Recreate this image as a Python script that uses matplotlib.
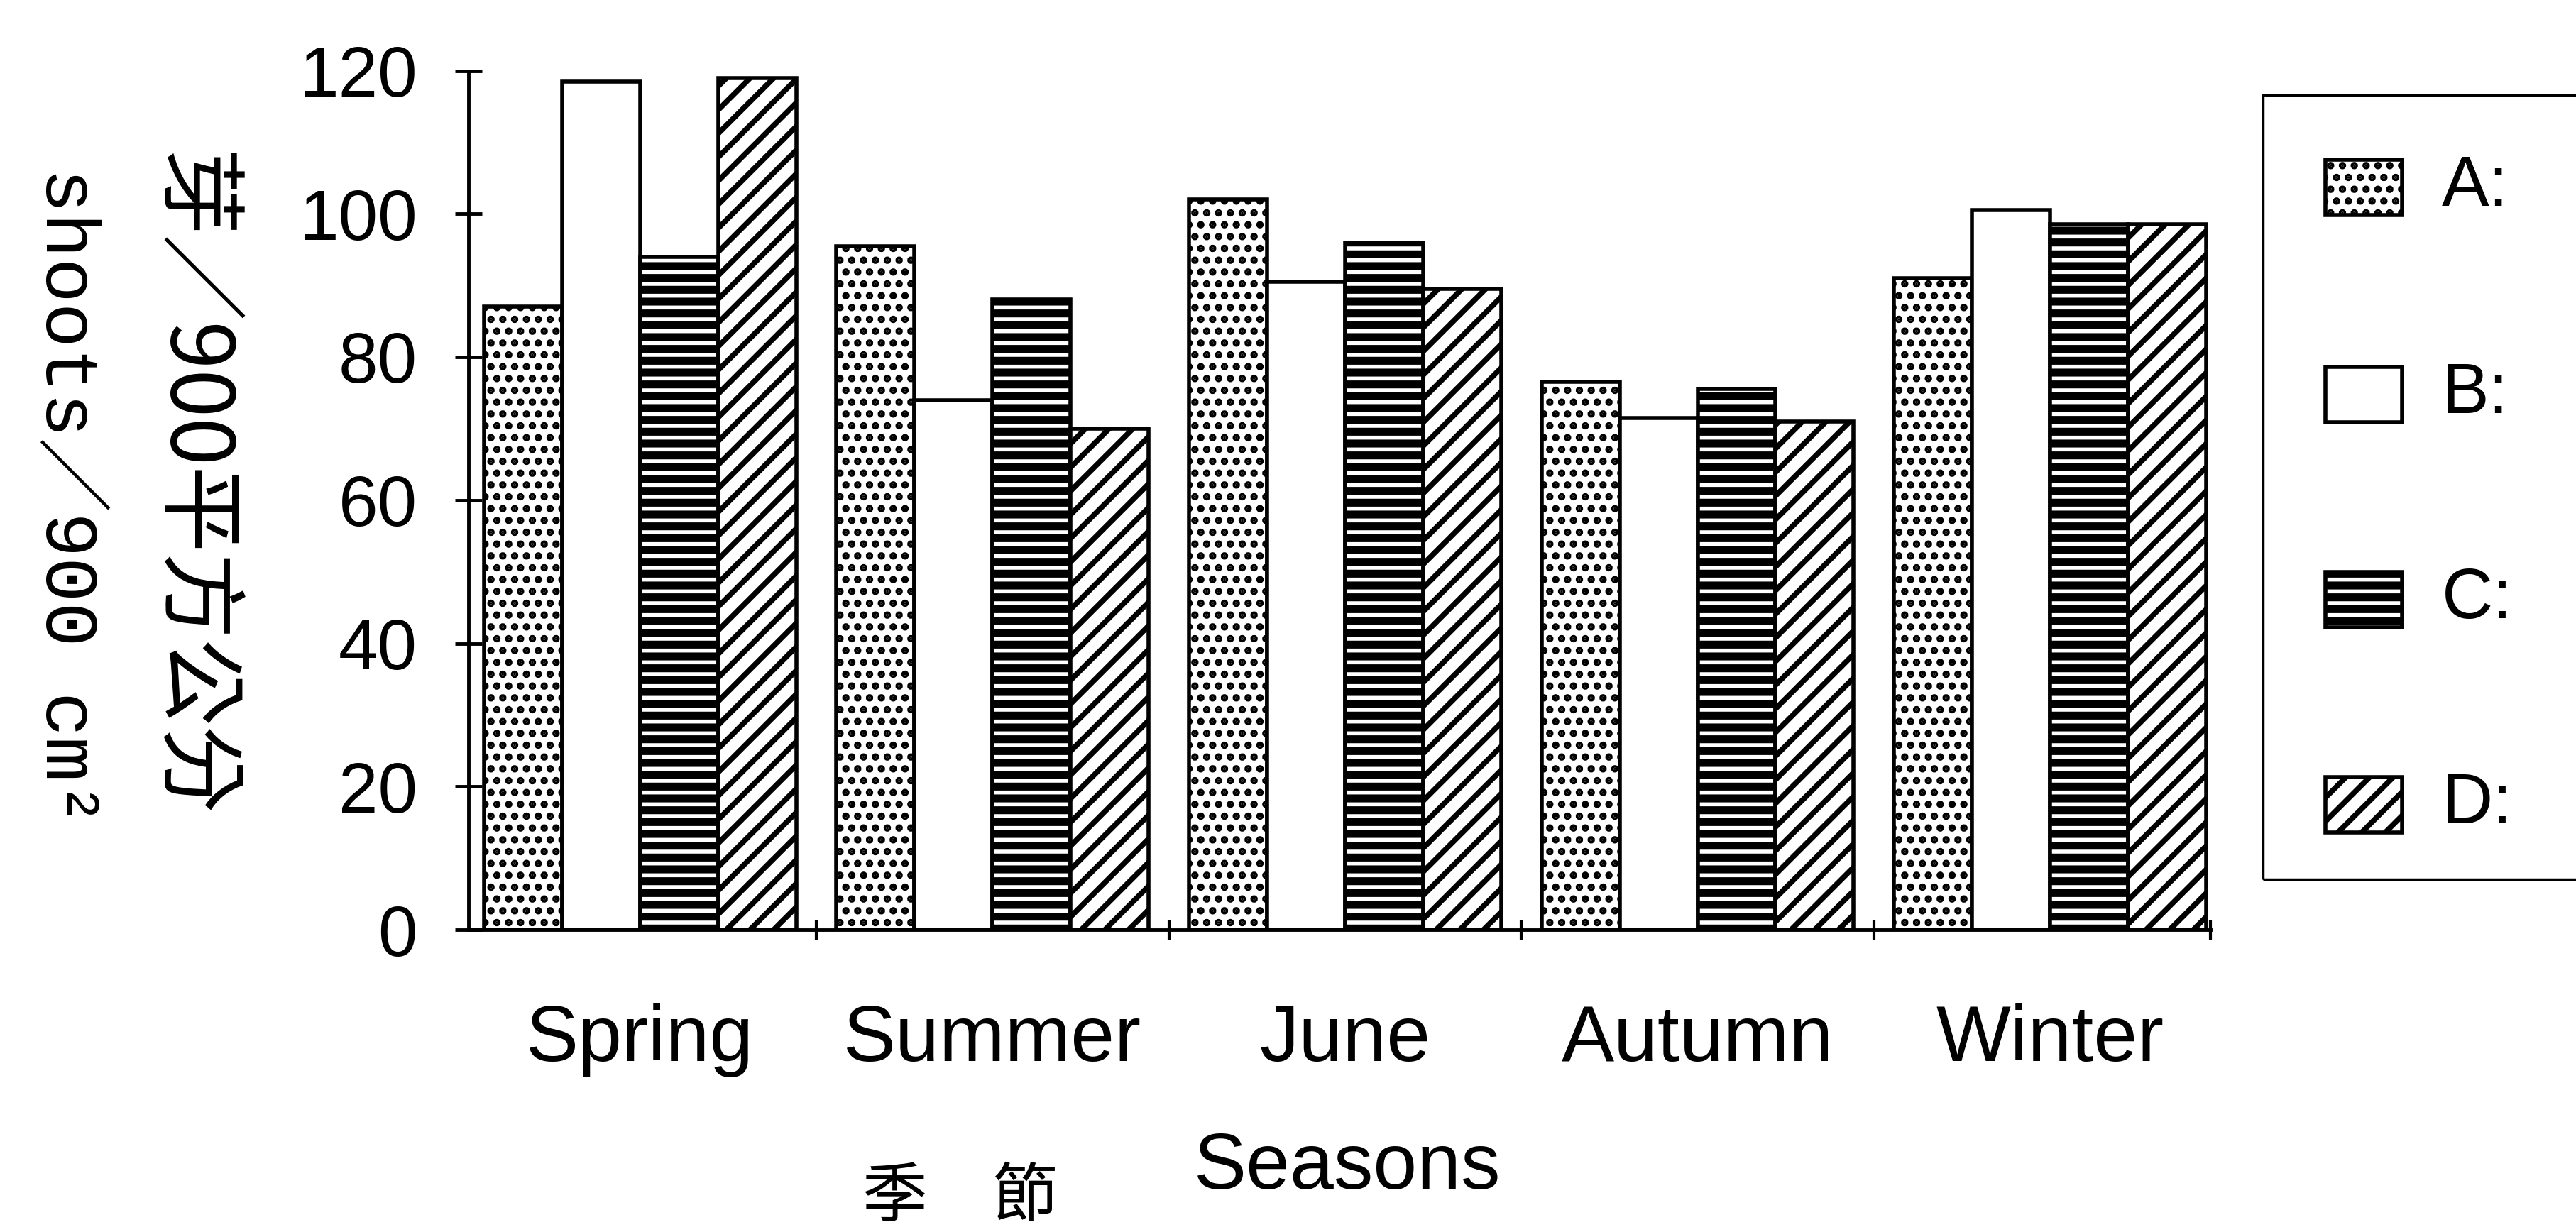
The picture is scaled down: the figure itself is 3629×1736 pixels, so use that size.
import matplotlib
matplotlib.use('Agg')
import matplotlib.pyplot as plt
from matplotlib.patches import Rectangle
import numpy as np

# ---- data ----
categories = ['Spring', 'Summer', 'June', 'Autumn', 'Winter']
series_labels = ['A:', 'B:', 'C:', 'D:']
A = [87.0, 95.5, 102.0, 76.5, 91.0]
B = [118.5, 74.0, 90.5, 71.5, 100.5]
C = [94.0, 88.0, 96.0, 75.5, 98.5]
D = [119.0, 70.0, 89.5, 71.0, 98.5]
yticks = [0, 20, 40, 60, 80, 100, 120]

series = [A, B, C, D]
hatches = ['.', '', '-', '/']
hatch_lws = [5.0, 1.0, 8.0, 5.5]

W, H, DPI = 3630, 1736, 100
plt.rcParams['hatch.color'] = 'black'
fig = plt.figure(figsize=(W / DPI, H / DPI), dpi=DPI, facecolor='white')

ax_left = 660 / W
ax_right = 3114 / W
ax_bottom = 1 - 1310 / H
ax_top = 1 - 99.5 / H
ax = fig.add_axes([ax_left, ax_bottom, ax_right - ax_left, ax_top - ax_bottom])

x = np.arange(len(categories))
bw = 0.2215
offsets = (np.arange(4) - 1.5) * bw


def apply_hatch_lw(patch, lw):
    try:
        patch.set_hatch_linewidth(lw)
    except Exception:
        pass


for i, (vals, h, hlw) in enumerate(zip(series, hatches, hatch_lws)):
    with plt.rc_context({'hatch.linewidth': hlw}):
        bars = ax.bar(x + offsets[i], vals, width=bw, color='white',
                      edgecolor='black', linewidth=4, hatch=h, zorder=2)
    for b in bars:
        apply_hatch_lw(b, hlw)

ax.set_xlim(-0.487, 4.455)
ax.set_ylim(0, 120)

for s in ['top', 'right']:
    ax.spines[s].set_visible(False)
for s in ['left', 'bottom']:
    ax.spines[s].set_linewidth(3.5)

ax.set_yticks(yticks)
ax.set_yticklabels([str(v) for v in yticks], fontsize=72, family='Liberation Sans')
ax.tick_params(axis='y', direction='inout', length=28, width=3.5, pad=38)

ax.set_xticks(x)
ax.set_xticklabels(categories, fontsize=80, family='Liberation Sans')
ax.tick_params(axis='x', which='major', length=0, pad=75)
ax.set_xticks([0.5, 1.5, 2.5, 3.5, 4.455], minor=True)
ax.tick_params(axis='x', which='minor', direction='inout', length=20, width=3)

# axis titles
fig.text(1898 / W, 1 - 1646 / H, 'Seasons', fontsize=80, family='Liberation Sans',
         ha='center', va='center')
fig.text(1352 / W, 1 - 1688 / H, '季　節', fontsize=66,
         family=['Noto Sans CJK TC', 'DejaVu Sans'], ha='center', va='center')

fig.text(268 / W, 1 - 683 / H, '芽／900平方公分', fontsize=88, rotation=-90,
         family=['Noto Sans CJK TC', 'DejaVu Sans'], ha='center', va='center')
fig.text(93 / W, 1 - 700 / H, 'shoots／900 cm²', fontsize=76, rotation=-90,
         family=['Liberation Mono', 'Noto Sans CJK TC', 'DejaVu Sans'],
         ha='center', va='center')

# legend (drawn manually)
box = Rectangle((3188 / W, 1 - 1239 / H), 0.2, (1239 - 134) / H,
                transform=fig.transFigure, fill=False, edgecolor='black',
                linewidth=2.5, clip_on=False)
fig.add_artist(box)
leg_cy = [264, 556, 845, 1134]
pw, ph = 108 / W, 78 / H
for lab, h, hlw, cy in zip(series_labels, hatches, hatch_lws, leg_cy):
    with plt.rc_context({'hatch.linewidth': hlw}):
        p = Rectangle((3276 / W, 1 - cy / H - ph / 2), pw, ph,
                      transform=fig.transFigure, facecolor='white',
                      edgecolor='black', linewidth=4, hatch=h)
    apply_hatch_lw(p, hlw)
    fig.add_artist(p)
    fig.text(3440 / W, 1 - cy / H, lab, fontsize=72, family='Liberation Sans',
             ha='left', va='center')

fig.savefig('out.png', dpi=DPI, facecolor='white')
